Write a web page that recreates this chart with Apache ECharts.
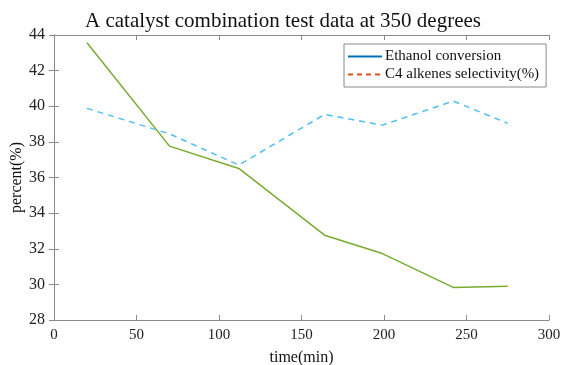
<!DOCTYPE html>
<html>
<head>
<meta charset="utf-8">
<script src="https://cdn.jsdelivr.net/npm/echarts@6/dist/echarts.min.js"></script>
<style>html,body{margin:0;padding:0;background:#fff;}#c{width:570px;height:365px;}</style>
</head>
<body>
<div id="c"></div>
<script>
var times = [20, 70, 112, 164, 199, 242, 275];
var ethanolConversion = [43.57, 37.76, 36.51, 32.76, 31.73, 29.83, 29.9];
var c4Selectivity = [39.88, 38.45, 36.70, 39.54, 38.94, 40.29, 39.04];
var xTicks = {min: 0, max: 300, interval: 50};
var yTicks = {min: 28, max: 44, interval: 2};

var font = 'Liberation Serif, Times New Roman, serif';
var chart = echarts.init(document.getElementById('c'), null, {renderer: 'canvas'});
function pairs(xs, ys) { return xs.map(function (x, i) { return [x, ys[i]]; }); }
var axisLine = {show: true, lineStyle: {color: '#8a8a8a', width: 1}};
var axisTick = {show: true, inside: true, length: 5, lineStyle: {color: '#8a8a8a'}};
var solidIcon = 'path://M0,0h34v2h-34z';
var dashIcon = 'path://M0,0h5v2h-5zM9,0h5v2h-5zM18,0h5v2h-5zM27,0h5v2h-5zM34,0h0.01v2h-0.01z';
chart.setOption({
  animation: false,
  title: {
    text: 'A catalyst combination test data at 350 degrees',
    left: 80, top: 6,
    textStyle: {fontFamily: font, fontSize: 21, fontWeight: 'normal', color: '#111'}
  },
  legend: {
    orient: 'vertical', left: 344, top: 44,
    padding: [5, 7, 5, 4],
    itemGap: 3, itemWidth: 34, itemHeight: 2,
    borderColor: '#8a8a8a', borderWidth: 1,
    textStyle: {fontFamily: font, fontSize: 15, color: '#111', padding: [0, 0, 0, -2]},
    data: [
      {name: 'Ethanol conversion', icon: solidIcon},
      {name: 'C4 alkenes selectivity(%)', icon: dashIcon}
    ]
  },
  grid: {left: 54, right: 21, top: 35, bottom: 45, outerBoundsMode: 'none', containLabel: false},
  xAxis: [{
    type: 'value', min: xTicks.min, max: xTicks.max, interval: xTicks.interval,
    name: 'time(min)', nameLocation: 'middle', nameGap: 30,
    nameTextStyle: {fontFamily: font, fontSize: 16, color: '#111'},
    axisLine: axisLine, axisTick: axisTick, splitLine: {show: false},
    axisLabel: {fontFamily: font, fontSize: 15, color: '#222', margin: 8}
  }, {
    type: 'value', position: 'top', min: xTicks.min, max: xTicks.max, interval: xTicks.interval,
    axisLine: axisLine, axisTick: axisTick, splitLine: {show: false}, axisLabel: {show: false}
  }],
  yAxis: [{
    type: 'value', min: yTicks.min, max: yTicks.max, interval: yTicks.interval,
    name: 'percent(%)', nameLocation: 'middle', nameGap: 29, nameMoveOverlap: false,
    nameTextStyle: {fontFamily: font, fontSize: 16, color: '#111'},
    axisLine: axisLine, axisTick: axisTick, splitLine: {show: false},
    axisLabel: {fontFamily: font, fontSize: 16, color: '#222', margin: 9}
  }, {
    type: 'value', position: 'right', min: yTicks.min, max: yTicks.max, interval: yTicks.interval,
    axisLine: axisLine, axisTick: axisTick, splitLine: {show: false}, axisLabel: {show: false}
  }],
  series: [
    {name: 'Ethanol conversion', type: 'line', data: [], symbol: 'none',
     itemStyle: {color: '#0072BD'}, lineStyle: {color: '#0072BD', width: 1.5, type: 'solid'}},
    {name: 'C4 alkenes selectivity(%)', type: 'line', data: [], symbol: 'none',
     itemStyle: {color: '#D95319'}, lineStyle: {color: '#D95319', width: 1.5, type: 'dashed'}},
    {name: 'ethanol_line', type: 'line', data: pairs(times, ethanolConversion), symbol: 'none',
     lineStyle: {color: '#77AC30', width: 1.5}, itemStyle: {color: '#77AC30'}},
    {name: 'c4_line', type: 'line', data: pairs(times, c4Selectivity), symbol: 'none',
     lineStyle: {color: '#4DBEEE', width: 1.5, type: [6, 5]}, itemStyle: {color: '#4DBEEE'}}
  ]
});
</script>
</body>
</html>
